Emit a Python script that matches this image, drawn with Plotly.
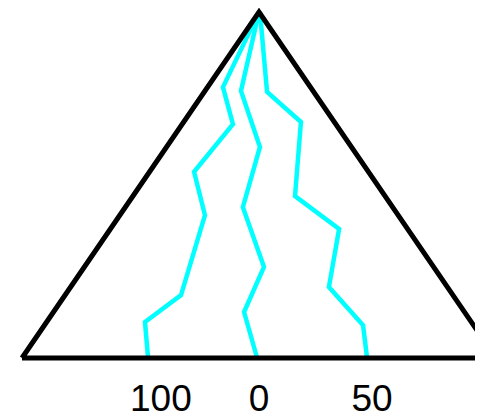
import plotly.graph_objects as go

# Triangle outline (base-left, apex, base-right)
tri_x = [-1.0, 0.0, 1.0, -1.0]
tri_y = [0.0, 1.0, 0.0, 0.0]

# Three cyan paths from apex to base
line1_x = [0.0, -0.152, -0.110, -0.274, -0.228, -0.329, -0.481, -0.468]
line1_y = [1.0, 0.783, 0.676, 0.538, 0.413, 0.182, 0.104, 0.0]
line2_x = [0.0, -0.076, 0.004, -0.068, 0.021, -0.063, -0.008]
line2_y = [1.0, 0.772, 0.610, 0.436, 0.263, 0.133, 0.0]
line3_x = [0.004, 0.034, 0.177, 0.152, 0.338, 0.295, 0.439, 0.456]
line3_y = [1.0, 0.769, 0.682, 0.468, 0.373, 0.205, 0.095, 0.0]

tick_vals = [-0.414, 0.0, 0.477]
tick_text = ["100", "0", "50"]

fig = go.Figure()
for xs, ys in [(line1_x, line1_y), (line2_x, line2_y), (line3_x, line3_y)]:
    fig.add_trace(go.Scatter(x=xs, y=ys, mode="lines",
                             line=dict(color="#00FFFF", width=4.5),
                             hoverinfo="skip", showlegend=False))
fig.add_trace(go.Scatter(x=tri_x, y=tri_y, mode="lines",
                         line=dict(color="black", width=5),
                         hoverinfo="skip", showlegend=False))

fig.update_layout(
    width=475, height=408,
    margin=dict(l=0, r=0, t=0, b=52),
    paper_bgcolor="white", plot_bgcolor="white",
    xaxis=dict(range=[-1.059, 0.9451], showgrid=False, zeroline=False,
               showline=False, tickmode="array", tickvals=tick_vals,
               ticktext=tick_text, ticks="outside", ticklen=2,
               tickcolor="rgba(0,0,0,0)", automargin=False,
               tickfont=dict(family="Liberation Sans, Arial", size=37, color="black")),
    yaxis=dict(range=[-0.0173, 1.0116], showgrid=False, zeroline=False,
               showline=False, showticklabels=False, ticks="", automargin=False),
)
fig.write_html("out.html")
